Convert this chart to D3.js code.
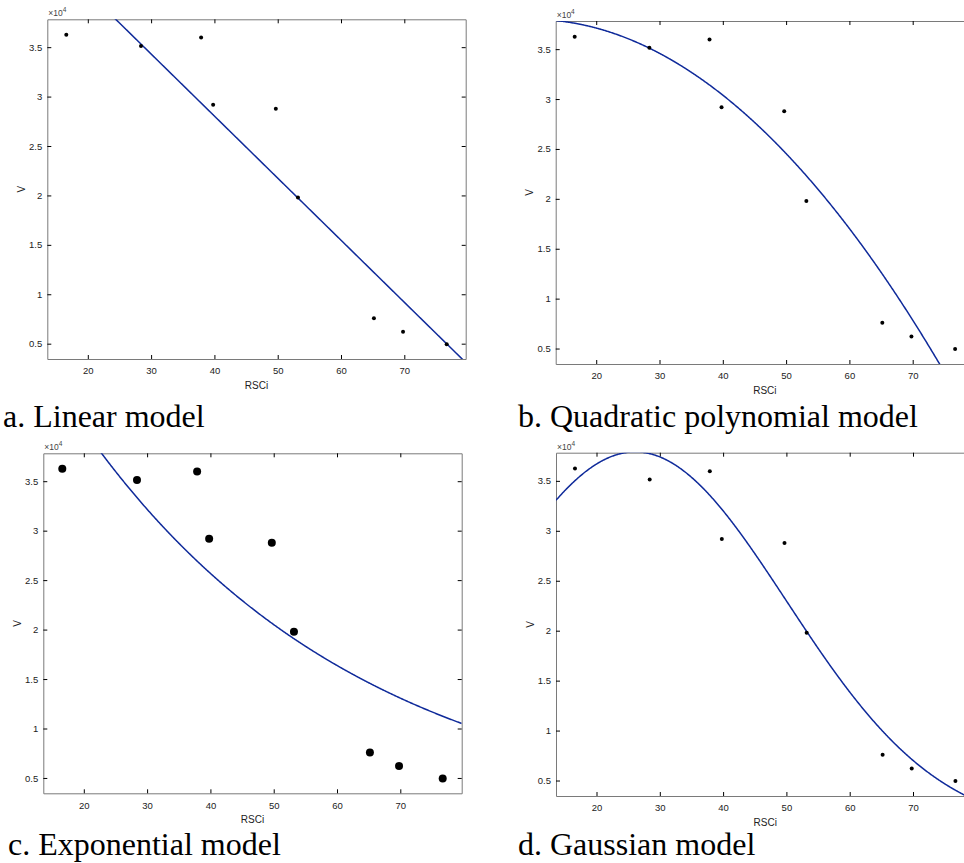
<!DOCTYPE html>
<html>
<head>
<meta charset="utf-8">
<script src="https://cdn.jsdelivr.net/npm/d3@7"></script>
<style>
  body { margin: 0; background: #fff; }
  svg { display: block; }
  .tick text { font-family: Arial, "Liberation Sans", sans-serif; font-size: 9.5px; fill: #222; }
  .tick line { stroke: #000; }
  .domain { stroke: #7a7a7a; }
</style>
</head>
<body>
<svg width="964" height="863"></svg>
<script>
// measured points (RSCi vs V)
const rsci = [16.6, 28.4, 37.9, 39.8, 49.7, 53.2, 65.2, 69.8, 76.7];
const v = [36250, 35130, 35970, 29170, 28780, 19790, 7580, 6200, 4950];

const xTicks = [20, 30, 40, 50, 60, 70];
const yTicks = [5000, 10000, 15000, 20000, 25000, 30000, 35000];
const xDomain = [13.6, 79.7];
const yDomain = [3450, 37820];

// fitted model coefficients
const linearCoef = [-628, 53150];          // p1*x + p2
const quadCoef = [-8.30, 161.7, 37200];    // p1*x^2 + p2*x + p3
const expCoef = [63190, -0.02251];         // a*exp(b*x)
const gaussCoef = [37900, 26.1, 33.8];     // a1*exp(-((x-b1)/c1)^2)

const captions = [
  'a. Linear model',
  'b. Quadratic polynomial model',
  'c. Exponential model',
  'd. Gaussian model',
];

const models = [
  (x) => linearCoef[0] * x + linearCoef[1],
  (x) => quadCoef[0] * x * x + quadCoef[1] * x + quadCoef[2],
  (x) => expCoef[0] * Math.exp(expCoef[1] * x),
  (x) => gaussCoef[0] * Math.exp(-Math.pow((x - gaussCoef[1]) / gaussCoef[2], 2)),
];

const plotW = 418.4;
const panels = [
  { left: 47.3, top: 19.3, bottom: 359, capX: 3, capY: 427, r: 2 },
  { left: 555.7, top: 21, bottom: 364, capX: 518, capY: 427, r: 2 },
  { left: 43.3, top: 453.3, bottom: 793.3, capX: 8, capY: 855, r: 4 },
  { left: 556, top: 452.7, bottom: 796, capX: 518, capY: 855, r: 2 },
];

const svg = d3.select('svg');
const sans = 'Arial, "Liberation Sans", sans-serif';

panels.forEach((p, i) => {
  const right = p.left + plotW;
  const x = d3.scaleLinear().domain(xDomain).range([p.left, right]);
  const y = d3.scaleLinear().domain(yDomain).range([p.bottom, p.top]);
  const g = svg.append('g');

  const clipId = 'clip' + i;
  svg.append('clipPath').attr('id', clipId)
    .append('rect')
    .attr('x', p.left).attr('y', p.top)
    .attr('width', plotW).attr('height', p.bottom - p.top);

  // box with inward ticks on all four sides
  g.append('g')
    .attr('transform', `translate(0,${p.bottom})`)
    .call(d3.axisBottom(x).tickValues(xTicks).tickSize(-4).tickSizeOuter(0).tickPadding(8.5));
  g.append('g')
    .attr('transform', `translate(0,${p.top})`)
    .call(d3.axisTop(x).tickValues(xTicks).tickSize(-4).tickSizeOuter(0).tickFormat(''));
  g.append('g')
    .attr('transform', `translate(${p.left},0)`)
    .call(d3.axisLeft(y).tickValues(yTicks).tickSize(-4).tickSizeOuter(0).tickPadding(5)
      .tickFormat((d) => d3.format('~g')(d / 10000)));
  g.append('g')
    .attr('transform', `translate(${right},0)`)
    .call(d3.axisRight(y).tickValues(yTicks).tickSize(-4).tickSizeOuter(0).tickFormat(''));

  // x10^4 exponent label
  const ex = g.append('text')
    .attr('x', p.left + 1)
    .attr('y', p.top - 3)
    .attr('font-family', sans)
    .attr('font-size', 8.5)
    .attr('fill', '#444')
    .text('\u00d710');
  ex.append('tspan').attr('dy', -4).attr('font-size', 6.5).text('4');

  // axis titles
  g.append('text')
    .attr('x', (p.left + right) / 2)
    .attr('y', p.bottom + 29.5)
    .attr('text-anchor', 'middle')
    .attr('font-family', sans)
    .attr('font-size', 10)
    .attr('fill', '#222')
    .text('RSCi');
  g.append('text')
    .attr('transform', `translate(${p.left - 22.5},${(p.top + p.bottom) / 2}) rotate(-90)`)
    .attr('text-anchor', 'middle')
    .attr('font-family', sans)
    .attr('font-size', 10)
    .attr('fill', '#222')
    .text('V');

  // fitted curve
  const f = models[i];
  const xs = d3.range(xDomain[0], xDomain[1] + 0.1, 0.1);
  const line = d3.line()
    .x((d) => x(d))
    .y((d) => y(f(d)));
  g.append('path')
    .attr('clip-path', `url(#${clipId})`)
    .attr('d', line(xs))
    .attr('fill', 'none')
    .attr('stroke', '#0f2a9a')
    .attr('stroke-width', 1.5);

  // data points
  g.selectAll('circle')
    .data(rsci)
    .enter().append('circle')
    .attr('cx', (d) => x(d))
    .attr('cy', (d, j) => y(v[j]))
    .attr('r', p.r)
    .attr('fill', '#000');

  // caption
  svg.append('text')
    .attr('x', p.capX)
    .attr('y', p.capY)
    .attr('font-family', '"Times New Roman", "Liberation Serif", serif')
    .attr('font-size', 32)
    .attr('fill', '#000')
    .text(captions[i]);
});
</script>
</body>
</html>
